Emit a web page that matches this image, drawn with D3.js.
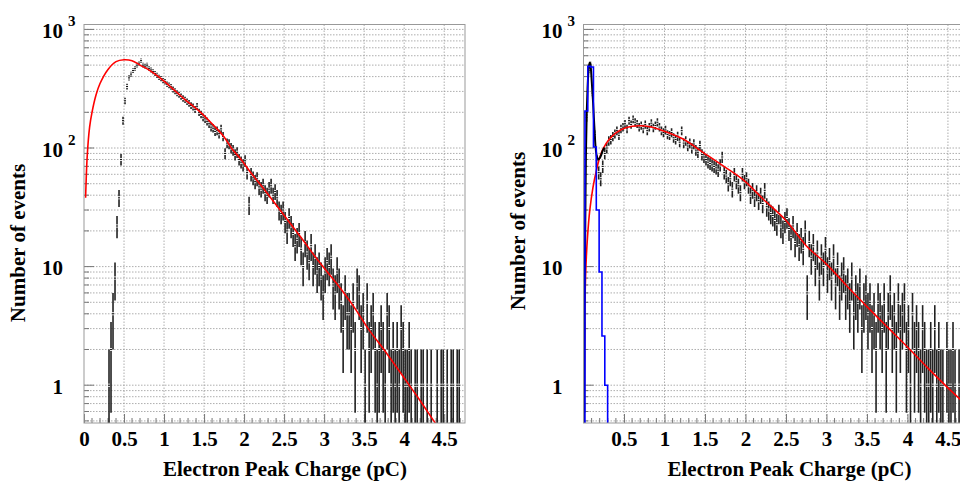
<!DOCTYPE html>
<html>
<head>
<meta charset="utf-8">
<script src="https://cdn.jsdelivr.net/npm/d3@7"></script>
<style>
  body { margin: 0; background: #fff; }
  svg { display: block; font-family: "Liberation Serif", "Times New Roman", serif; font-weight: bold; }
</style>
</head>
<body>
<svg id="chart" width="960" height="481"></svg>
<script>
// Electron peak charge spectra, two panels (log y)

const binWidth = 0.025;

// left panel: counts per bin, first bin centre at 0.3125
const leftStart = 0.3125;
const leftCounts = [
  1, 2, 4, 8, 22, 38, 80, 170, 250, 330, 390, 420, 450, 470, 500, 520, 545, 500, 490, 500,
  470, 455, 440, 425, 410, 395, 385, 370, 362, 345, 338, 328, 312, 302, 290, 282, 272, 262, 255, 246,
  238, 228, 222, 212, 225, 200, 192, 182, 176, 168, 160, 150, 147, 138, 140, 132, 145, 125, 90, 110,
  108, 100, 96, 88, 92, 80, 76, 72, 78, 62, 33, 60, 56, 52, 55, 47, 45, 48, 42, 40,
  45, 48, 40, 43, 38, 30, 28, 30, 24, 20, 26, 22, 19, 15, 17, 19, 14, 10, 16, 13,
  11, 15, 10, 12, 9, 10, 8, 6, 9, 11, 10, 12, 7, 6, 9, 7, 5, 3, 6, 4,
  4, 3, 5, 2, 7, 6, 3, 4, 1, 5, 2, 3, 4, 2, 1, 2, 3, 2, 1, 4,
  3, 1, 2, 1, 2, 1, 3, 2, 1, 1, 2, 1, 0, 1, 1, 0, 1, 1, 0, 1,
  0, 1, 0, 0, 1, 0, 1, 1, 0, 1, 0, 1, 1, 0, 1, 1, 0
];

// right panel: counts per bin, first bin centre at 0.0125
const rightStart = 0.0125;
const rightCounts = [
  2, 180, 450, 510, 290, 130, 78, 62, 55, 70, 90, 100, 115, 118, 125, 132, 140, 128, 145, 150,
  160, 145, 170, 158, 175, 165, 160, 150, 155, 145, 158, 140, 150, 162, 148, 155, 165, 150, 140, 135,
  142, 130, 128, 135, 122, 118, 126, 112, 140, 110, 115, 104, 110, 100, 108, 96, 92, 105, 88, 84,
  80, 76, 74, 72, 70, 68, 65, 72, 84, 62, 58, 50, 55, 45, 60, 52, 48, 42, 60, 52,
  55, 48, 40, 44, 38, 42, 36, 40, 34, 44, 32, 30, 28, 27, 25, 23, 28, 22, 20, 24,
  26, 21, 18, 22, 16, 19, 15, 17, 14, 20, 6, 16, 12, 15, 10, 13, 8, 12, 10, 14,
  9, 11, 8, 12, 7, 10, 6, 8, 9, 6, 7, 5, 8, 4, 6, 5, 7, 3, 5, 6,
  4, 5, 3, 4, 2, 5, 4, 3, 5, 2, 4, 6, 3, 4, 2, 5, 3, 4, 5, 2,
  3, 1, 4, 2, 3, 2, 1, 3, 2, 1, 1, 2, 1, 3, 1, 2, 1, 1, 0, 2,
  1, 1, 2, 1, 0, 1, 1, 1, 0, 1
];

// fitted curves [charge, events]
const leftFit = [
  [0.02, 38], [0.04, 85], [0.07, 150], [0.1, 200], [0.15, 280], [0.2, 350], [0.3, 460],
  [0.4, 535], [0.5, 555], [0.6, 545], [0.7, 500], [0.8, 460], [0.95, 390], [1.1, 320],
  [1.25, 260], [1.45, 202], [1.6, 160], [1.75, 124], [1.85, 98], [1.95, 82], [2.1, 60],
  [2.25, 45], [2.45, 30], [2.7, 18], [2.95, 10.7], [3.15, 7.3], [3.37, 4.6], [3.55, 3.0],
  [3.78, 1.86], [4.0, 1.15], [4.2, 0.74], [4.37, 0.5], [4.45, 0.42]
];
const rightFit = [
  [0.008, 0.4], [0.012, 2], [0.016, 4.5], [0.025, 8], [0.035, 12], [0.05, 18], [0.077, 29.6],
  [0.117, 46.6], [0.158, 64], [0.2, 83], [0.24, 98], [0.32, 119], [0.405, 135], [0.53, 149],
  [0.69, 154], [0.82, 151], [0.98, 140], [1.23, 119], [1.475, 92], [1.72, 71], [1.97, 54],
  [2.22, 37], [2.5, 24.5], [2.75, 15], [3.0, 10.5], [3.25, 6.9], [3.5, 4.6], [3.75, 3.1],
  [4.0, 2.1], [4.25, 1.4], [4.5, 0.95], [4.76, 0.65]
];
const rightTotal = [
  [0.004, 0.4], [0.008, 1.5], [0.014, 6], [0.02, 15], [0.03, 90], [0.04, 200], [0.05, 320],
  [0.06, 430], [0.07, 505], [0.078, 525], [0.087, 500], [0.096, 420], [0.107, 320],
  [0.117, 250], [0.128, 180], [0.138, 135], [0.15, 100], [0.165, 85], [0.18, 80],
  [0.2, 82], [0.22, 88], [0.24, 96], [0.26, 101]
];

// noise component (blue histogram): bin edges and contents
const noiseEdges = [0.018, 0.053, 0.088, 0.123, 0.158, 0.193, 0.228, 0.263, 0.298];
const noiseValues = [205, 488, 482, 102, 30, 9, 2.6, 1.0];

const leftTicks = [0, 0.5, 1, 1.5, 2, 2.5, 3, 3.5, 4, 4.5];
const rightTicks = [0.5, 1, 1.5, 2, 2.5, 3, 3.5, 4, 4.5];
const yMajors = [1, 10, 100, 1000];

const svg = d3.select("#chart");
const plotTop = 24.5, plotBottom = 423;
const xMax = 4.76;

const y = d3.scaleLog().domain([0.48, 1100]).range([plotBottom, plotTop]);

// all log grid values inside the domain
const yGrid = [];
[0.1, 1, 10, 100].forEach(d => {
  for (let k = 1; k <= 9; k++) {
    const v = d * k;
    if (v >= 0.48 && v <= 1100) yGrid.push(v);
  }
});
yGrid.push(1000);

function drawPanel(p, idx) {
  const x = d3.scaleLinear().domain([0, xMax]).range([p.left, p.left + p.width]);
  const g = svg.append("g");
  const right = p.left + p.width;

  const clipId = "clip" + idx;
  svg.append("clipPath").attr("id", clipId)
    .append("rect")
    .attr("x", p.left).attr("y", plotTop)
    .attr("width", p.width).attr("height", plotBottom - plotTop);

  // grid
  g.append("g").selectAll("line")
    .data(yGrid)
    .join("line")
    .attr("x1", p.left).attr("x2", right)
    .attr("y1", d => y(d)).attr("y2", d => y(d))
    .attr("stroke", "#999")
    .attr("stroke-width", 0.8)
    .attr("stroke-dasharray", "1.5,1.5");

  g.append("g").selectAll("line")
    .data(leftTicks.filter(d => d > 0))
    .join("line")
    .attr("x1", d => x(d)).attr("x2", d => x(d))
    .attr("y1", plotTop).attr("y2", plotBottom)
    .attr("stroke", "#999")
    .attr("stroke-width", 0.8)
    .attr("stroke-dasharray", "1.5,1.5");

  // x axis ticks pointing inward, labels below
  const xAxis = d3.axisBottom(x)
    .tickValues(p.ticks)
    .tickSize(-9)
    .tickPadding(8)
    .tickFormat(d3.format("~g"));
  const xa = g.append("g")
    .attr("transform", `translate(0,${plotBottom})`)
    .call(xAxis);
  xa.select(".domain").remove();
  xa.selectAll(".tick line").attr("stroke", "#777");
  xa.selectAll(".tick text")
    .attr("fill", "#000")
    .style("font-size", "21px")
    .style("font-family", "Liberation Serif, serif")
    .style("font-weight", "bold");

  const minorX = d3.range(1, 48).map(i => i / 10).filter(v => v % 0.5 > 0.01 && v % 0.5 < 0.49);
  g.append("g").selectAll("line")
    .data(minorX)
    .join("line")
    .attr("x1", d => x(d)).attr("x2", d => x(d))
    .attr("y1", plotBottom).attr("y2", plotBottom - 5)
    .attr("stroke", "#777");

  // y ticks
  g.append("g").selectAll("line")
    .data(yGrid)
    .join("line")
    .attr("x1", p.left).attr("x2", d => p.left + (yMajors.includes(d) ? 10 : 5))
    .attr("y1", d => y(d)).attr("y2", d => y(d))
    .attr("stroke", "#777");

  // y labels (10 with exponent)
  const labels = g.append("g");
  yMajors.forEach(v => {
    const exp = Math.round(Math.log10(v));
    labels.append("text")
      .attr("x", p.left - 21)
      .attr("y", y(v) + 8.5)
      .attr("text-anchor", "end")
      .style("font-size", "21px")
      .text(exp === 0 ? "1" : "10");
    if (exp >= 2) {
      labels.append("text")
        .attr("x", p.left - 16)
        .attr("y", y(v) - 3.5)
        .style("font-size", "15px")
        .text(exp);
    }
  });

  // data: error bars with a small gap around the marker
  const plot = g.append("g").attr("clip-path", `url(#${clipId})`);
  const pts = p.counts.map((n, i) => ({ c: p.start + i * binWidth, n }))
    .filter(d => d.n > 0);
  const bars = plot.append("g").attr("stroke", "#222").attr("stroke-width", 1.6);
  pts.forEach(d => {
    const cx = x(d.c);
    const cy = y(d.n);
    const e = Math.sqrt(d.n);
    const yt = y(d.n + e);
    const yb = d.n - e > 0 ? y(d.n - e) : plotBottom + 5;
    if (cy - 1.5 > yt) bars.append("line").attr("x1", cx).attr("x2", cx).attr("y1", yt).attr("y2", cy - 1.5);
    if (yb > cy + 1.5) bars.append("line").attr("x1", cx).attr("x2", cx).attr("y1", cy + 1.5).attr("y2", yb);
  });
  plot.append("g").selectAll("rect")
    .data(pts)
    .join("rect")
    .attr("x", d => x(d.c) - 1)
    .attr("y", d => y(d.n) - 0.6)
    .attr("width", 2)
    .attr("height", 1.2)
    .attr("fill", "#111");

  const line = d3.line()
    .x(d => x(d[0]))
    .y(d => y(d[1]))
    .curve(d3.curveCatmullRom.alpha(0.5));

  plot.append("path")
    .datum(p.fit)
    .attr("d", line)
    .attr("fill", "none")
    .attr("stroke", "#f00")
    .attr("stroke-width", 1.6);

  if (p.total) {
    plot.append("path")
      .datum(p.total)
      .attr("d", line)
      .attr("fill", "none")
      .attr("stroke", "#000")
      .attr("stroke-width", 2);
  }

  if (p.noise) {
    const steps = [[noiseEdges[0], null]];
    noiseValues.forEach((v, i) => steps.push([noiseEdges[i], v]));
    steps.push([noiseEdges[noiseEdges.length - 1], null]);
    const step = d3.line()
      .x(d => x(d[0]))
      .y(d => d[1] == null ? plotBottom + 5 : y(d[1]))
      .curve(d3.curveStepAfter);
    plot.append("path")
      .datum(steps)
      .attr("d", step)
      .attr("fill", "none")
      .attr("stroke", "#00f")
      .attr("stroke-width", 1.6);
  }

  // frame
  g.append("rect")
    .attr("x", p.left).attr("y", plotTop)
    .attr("width", p.width).attr("height", plotBottom - plotTop)
    .attr("fill", "none")
    .attr("stroke", "#999")
    .attr("stroke-width", 1);

  // titles
  g.append("text")
    .attr("x", p.xTitleX)
    .attr("y", 476)
    .attr("text-anchor", "middle")
    .style("font-size", "21px")
    .text("Electron Peak Charge (pC)");

  g.append("text")
    .attr("transform", `translate(${p.yTitleX},${p.yTitleY}) rotate(-90)`)
    .attr("text-anchor", "middle")
    .style("font-size", "21px")
    .text("Number of events");
}

drawPanel({
  left: 84, width: 381, counts: leftCounts, start: leftStart, fit: leftFit,
  ticks: leftTicks, xTitleX: 285, yTitleX: 25, yTitleY: 243
}, 0);

drawPanel({
  left: 583.5, width: 385.5, counts: rightCounts, start: rightStart, fit: rightFit,
  total: rightTotal, noise: true,
  ticks: rightTicks, xTitleX: 789.5, yTitleX: 525, yTitleY: 231
}, 1);
</script>
</body>
</html>
